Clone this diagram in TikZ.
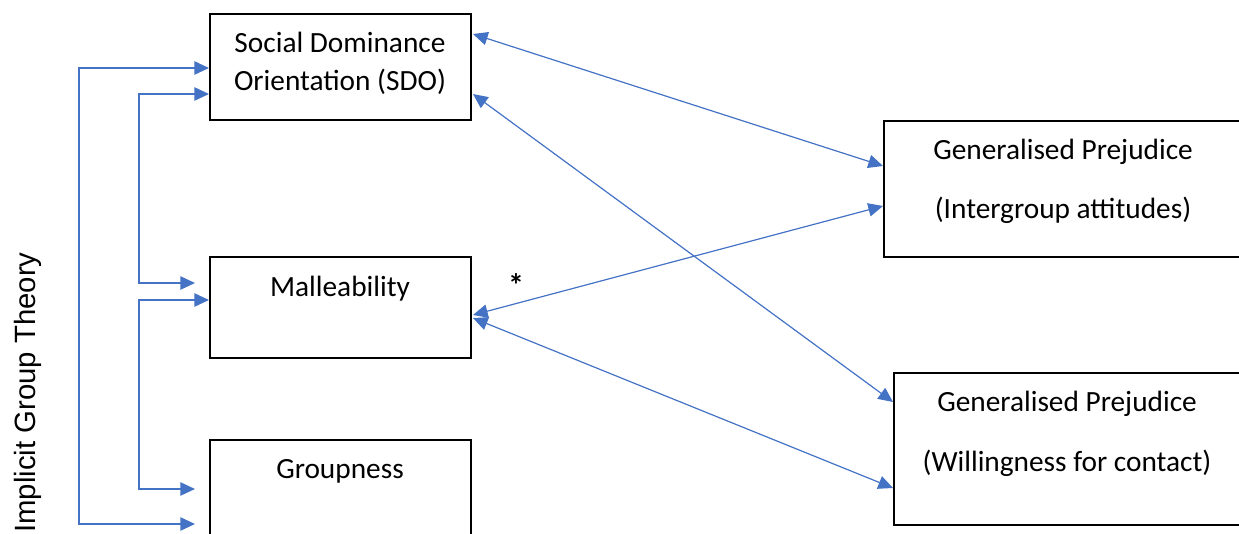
\documentclass[tikz,border=0pt]{standalone}
\usepackage{fontspec}
\setmainfont{Carlito}
\newfontfamily\sidefont{Liberation Sans}
\usetikzlibrary{arrows.meta,calc}
\definecolor{linkblue}{HTML}{4472C4}
\tikzset{
  box/.style={draw=black, line width=1.5pt, anchor=north west, inner sep=0pt},
  lbl/.style={anchor=base, inner sep=0pt, font=\fontsize{22}{28}\selectfont},
  link/.style={draw=linkblue, line width=0.9pt,
    {Triangle[length=11pt,width=10pt]}-{Triangle[length=11pt,width=10pt]}},
  elbow/.style={link, line width=1.2pt},
}
\begin{document}
\begin{tikzpicture}[x=0.75pt,y=-0.75pt]
  \useasboundingbox (0,0) rectangle (1239,534);
  \clip (0,0) rectangle (1239,534);

  % boxes
  \node[box, minimum width={261*0.75pt}, minimum height={106*0.75pt}] (sdo) at (209,13) {};
  \node[box, minimum width={261*0.75pt}, minimum height={101*0.75pt}] (mal) at (209,256) {};
  \node[box, minimum width={261*0.75pt}, minimum height={140*0.75pt}] (grp) at (209,439) {};
  \node[box, minimum width={380*0.75pt}, minimum height={136*0.75pt}] (gpa) at (883,120) {};
  \node[box, minimum width={370*0.75pt}, minimum height={152*0.75pt}] (gpw) at (893,372) {};

  % box texts
  \node[lbl] (sdoA) at (340,53) {Social Dominance};
  \node[lbl] (sdoB) at (340,91) {Orientation (SDO)};
  \node[lbl] (malT) at (340,297) {Malleability};
  \node[lbl] (grpT) at (340,479) {Groupness};
  \node[lbl] (gpaA) at (1063,160) {Generalised Prejudice};
  \node[lbl] (gpaB) at (1063,219) {(Intergroup attitudes)};
  \node[lbl] (gpwA) at (1067,412) {Generalised Prejudice};
  \node[lbl] (gpwB) at (1067,471) {(Willingness for contact)};

  % side label
  \node[anchor=base west, inner sep=0pt, rotate=90,
        font=\sidefont\fontsize{22}{26}\selectfont] (igt) at (35,533) {Implicit Group Theory};

  % significance mark
  \node[lbl, font=\bfseries\fontsize{24}{28}\selectfont] (star) at (516,297) {*};

  % elbow connectors on the left
  \draw[elbow] ($(sdo.north west)+(0,55)$) -- ++(-130,0) |- ($(grp.north west)+(-14,85)$);
  \draw[elbow] ($(sdo.north west)+(0,81)$) -- ++(-70,0) |- ($(mal.north west)+(-14,27)$);
  \draw[elbow] ($(mal.north west)+(0,44)$) -- ++(-70,0) |- ($(grp.north west)+(-14,50)$);

  % diagonal connectors
  \draw[link] ($(sdo.north east)+(1,21)$) -- ($(gpa.north west)+(0,46)$);
  \draw[link] ($(sdo.north east)+(1,81)$) -- ($(gpw.north west)+(0,30)$);
  \draw[link] ($(mal.north east)+(1,59)$) -- ($(gpa.north west)+(0,86)$);
  \draw[link] ($(mal.north east)+(1,62)$) -- ($(gpw.north west)+(0,116)$);
\end{tikzpicture}
\end{document}
